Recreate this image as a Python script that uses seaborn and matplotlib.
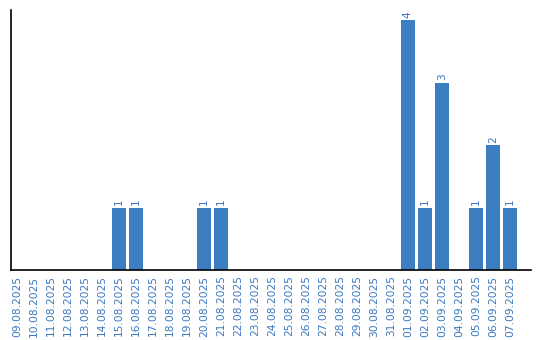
import matplotlib
matplotlib.use("Agg")
import matplotlib.pyplot as plt
import seaborn as sns
import pandas as pd

dates = ["09.08.2025", "10.08.2025", "11.08.2025", "12.08.2025", "13.08.2025",
         "14.08.2025", "15.08.2025", "16.08.2025", "17.08.2025", "18.08.2025",
         "19.08.2025", "20.08.2025", "21.08.2025", "22.08.2025", "23.08.2025",
         "24.08.2025", "25.08.2025", "26.08.2025", "27.08.2025", "28.08.2025",
         "29.08.2025", "30.08.2025", "31.08.2025", "01.09.2025", "02.09.2025",
         "03.09.2025", "04.09.2025", "05.09.2025", "06.09.2025", "07.09.2025"]
counts = [0, 0, 0, 0, 0, 0, 1, 1, 0, 0, 0, 1, 1, 0, 0,
          0, 0, 0, 0, 0, 0, 0, 0, 4, 1, 3, 0, 1, 2, 1]

df = pd.DataFrame({"date": dates, "count": counts})

sns.set_style("white")
bar_color = "#3b7ec2"
text_color = "#3a78c0"

fig = plt.figure(figsize=(5.4, 3.4), dpi=100)
ax = fig.add_axes([11/540, 70/340, 520/540, 260/340])
sns.barplot(data=df, x="date", y="count", color=bar_color, saturation=1,
            width=0.84, linewidth=0, ax=ax)

ax.set_xlim(-0.35, 30.24)
ax.set_ylim(0, 4.16)
ax.set_xlabel("")
ax.set_ylabel("")
ax.set_yticks([])
ax.tick_params(axis="x", length=0, pad=4, labelrotation=90,
               labelsize=7.7, labelcolor=text_color)
for s in ["top", "right"]:
    ax.spines[s].set_visible(False)
for s in ["left", "bottom"]:
    ax.spines[s].set_color("black")
    ax.spines[s].set_linewidth(1.2)

for i, v in enumerate(counts):
    if v > 0:
        ax.annotate(str(v), (i, v), xytext=(0, 1.5), textcoords="offset points",
                    rotation=90, ha="center", va="bottom",
                    fontsize=7.7, color=text_color)

fig.savefig("out.png", dpi=100)
